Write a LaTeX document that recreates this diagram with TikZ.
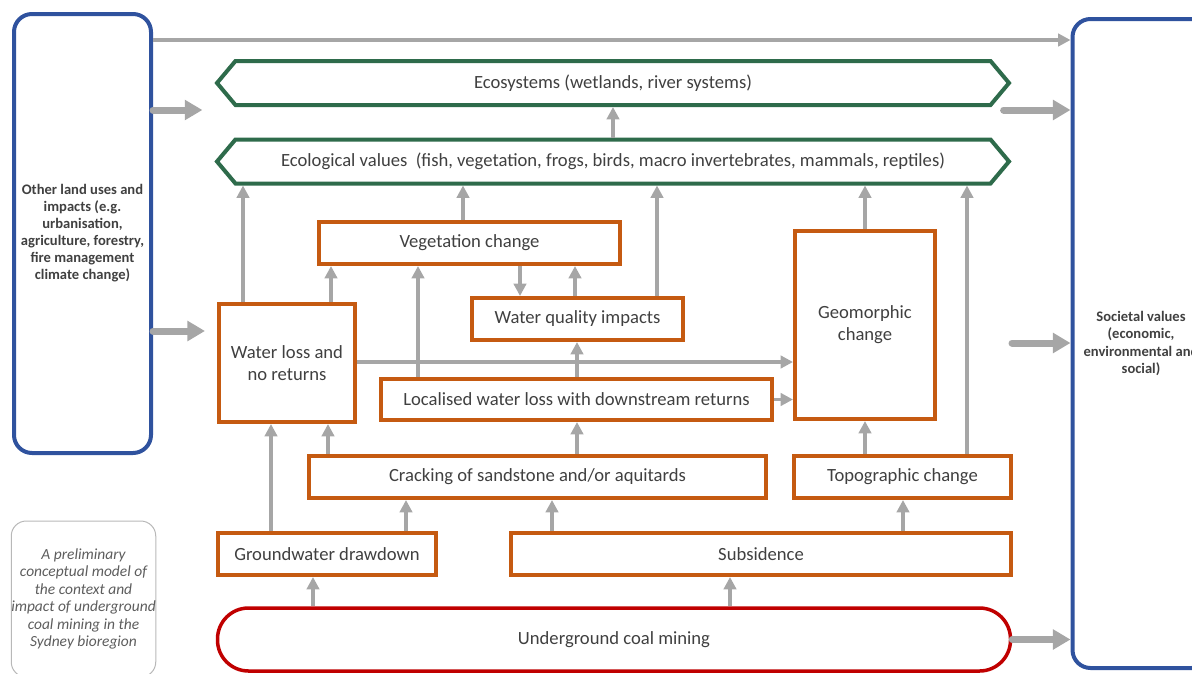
\documentclass[tikz,border=0pt]{standalone}
\usepackage{fontspec}
\setmainfont{Carlito}
\usetikzlibrary{arrows.meta, shapes.symbols}

\newlength\pxu
\setlength\pxu{0.02cm}

\definecolor{boxorange}{HTML}{C55A11}
\definecolor{valgreen}{HTML}{2E6B4B}
\definecolor{outerblue}{HTML}{2F529E}
\definecolor{minered}{HTML}{C00000}
\definecolor{linkgray}{HTML}{A6A6A6}
\definecolor{textgray}{HTML}{404040}

\begin{document}
\begin{tikzpicture}[
x=0.02cm, y=-0.02cm,
every node/.style={text=textgray, font=\fontsize{10.6}{12.5}\selectfont},
box/.style={draw=boxorange, line width=4\pxu, fill=white, align=center, inner sep=0pt},
valuebox/.style={draw=valgreen, line width=4\pxu, fill=white, signal, signal to=west and east, signal pointer angle=100, minimum width=792\pxu, minimum height=44\pxu, inner sep=0pt},
outerbox/.style={draw=outerblue, line width=4\pxu, rounded corners=18\pxu, align=center, inner sep=0pt, font=\fontsize{8.3}{9.7}\selectfont\bfseries},
minebox/.style={draw=minered, line width=3.5\pxu, rounded corners=31\pxu, fill=white, minimum width=793\pxu, minimum height=63\pxu},
notebox/.style={draw=linkgray!80, line width=1\pxu, rounded corners=15\pxu, align=center, inner sep=0pt, text=textgray!85, font=\fontsize{8.8}{10}\selectfont\itshape},
arrow/.style={-{Triangle[length=7pt, width=7pt]}, draw=linkgray, line width=3.3\pxu},
bigarrow/.style={-{Triangle[length=10pt, width=11pt]}, draw=linkgray, line width=7\pxu, line cap=round}
]
\useasboundingbox (0,0) rectangle (1192,673);
\clip (0,0) rectangle (1192,673);

% outer context boxes
\node[outerbox, minimum width=137\pxu, minimum height=439\pxu] (other) at (82.5,233.5)
{Other land uses and\\impacts (e.g.\\urbanisation,\\agriculture, forestry,\\fire management\\climate change)};
\node[outerbox, minimum width=137\pxu, minimum height=649\pxu] (society) at (1141,343.5)
{Societal values\\(economic,\\environmental and\\social)};
\node[notebox, minimum width=141\pxu, minimum height=156\pxu] (note) at (83.5,599)
{A preliminary\\conceptual model of\\the context and\\impact of underground\\coal mining in the\\Sydney bioregion};

% values
\node[valuebox] (ecosys) at (613,83) {Ecosystems (wetlands, river systems)};
\node[valuebox] (ecoval) at (613,161.5)
{Ecological values\ \ (fish, vegetation, frogs, birds, macro invertebrates, mammals, reptiles)};

% impacts
\node[box, minimum width=301\pxu, minimum height=42\pxu] (veg) at (469.5,243) {Vegetation change};
\node[box, minimum width=136\pxu, minimum height=118\pxu] (wl) at (287,363) {Water loss and\\no returns};
\node[box, minimum width=211\pxu, minimum height=42\pxu] (wq) at (577.5,319) {Water quality impacts};
\node[box, minimum width=140\pxu, minimum height=188\pxu] (geo) at (865,325) {Geomorphic\\change};
\node[box, minimum width=391\pxu, minimum height=41\pxu] (local) at (576.5,399.5)
{Localised water loss with downstream returns};
\node[box, minimum width=457\pxu, minimum height=42\pxu] (crack) at (537.5,477)
{Cracking of sandstone and/or aquitards};
\node[box, minimum width=217\pxu, minimum height=42\pxu] (topo) at (902.5,477) {Topographic change};
\node[box, minimum width=218\pxu, minimum height=42\pxu] (gw) at (327,554) {Groundwater drawdown};
\node[box, minimum width=500\pxu, minimum height=42\pxu] (subs) at (761,554) {Subsidence};
\node[minebox] (mine) at (614,639.5) {Underground coal mining};

% links
\draw[arrow] (ecoval.north) -- (ecosys.south);
\draw[arrow] (wl.north -| 243,0) -- (ecoval.south -| 243,0);
\draw[arrow] (wl.north -| 331,0) -- (veg.south -| 331,0);
\draw[arrow] (veg.north -| 463,0) -- (ecoval.south -| 463,0);
\draw[arrow] (veg.south -| 520,0) -- (wq.north -| 520,0);
\draw[arrow] (wq.north -| 575,0) -- (veg.south -| 575,0);
\draw[arrow] (wq.north -| 657,0) -- (ecoval.south -| 657,0);
\draw[arrow] (local.north -| 418,0) -- (veg.south -| 418,0);
\draw[arrow] (local.north -| 577,0) -- (wq.south -| 577,0);
\draw[arrow] (wl.east |- 0,362) -- (geo.west |- 0,362);
\draw[arrow] (local.east) -- (local.east -| geo.west);
\draw[arrow] (geo.north) -- (geo.north |- ecoval.south);
\draw[arrow] (topo.north -| 865,0) -- (geo.south);
\draw[arrow] (topo.north -| 967,0) -- (ecoval.south -| 967,0);
\draw[arrow] (crack.north -| 328,0) -- (wl.south -| 328,0);
\draw[arrow] (crack.north -| 577,0) -- (local.south -| 577,0);
\draw[arrow] (gw.north -| 271,0) -- (wl.south -| 271,0);
\draw[arrow] (gw.north -| 406,0) -- (crack.south -| 406,0);
\draw[arrow] (subs.north -| 552,0) -- (crack.south -| 552,0);
\draw[arrow] (subs.north -| 903,0) -- (topo.south -| 903,0);
\draw[arrow] (mine.north -| 313,0) -- (gw.south -| 313,0);
\draw[arrow] (mine.north -| 730,0) -- (subs.south -| 730,0);

% context links
\draw[arrow] (other.east |- 0,40) -- (society.west |- 0,40);
\draw[bigarrow, shorten >=12\pxu] (other.east |- 0,110) -- (ecosys.west |- 0,110);
\draw[bigarrow, shorten >=12\pxu] (other.east |- 0,331) -- (wl.west |- 0,331);
\draw[bigarrow, shorten <=-8\pxu] (ecosys.east |- 0,110) -- (society.west |- 0,110);
\coordinate (geoout) at (1012,343);
\draw[bigarrow] (geoout) -- (geoout -| society.west);
\draw[bigarrow] (mine.east) -- (mine.east -| society.west);

\end{tikzpicture}
\end{document}
